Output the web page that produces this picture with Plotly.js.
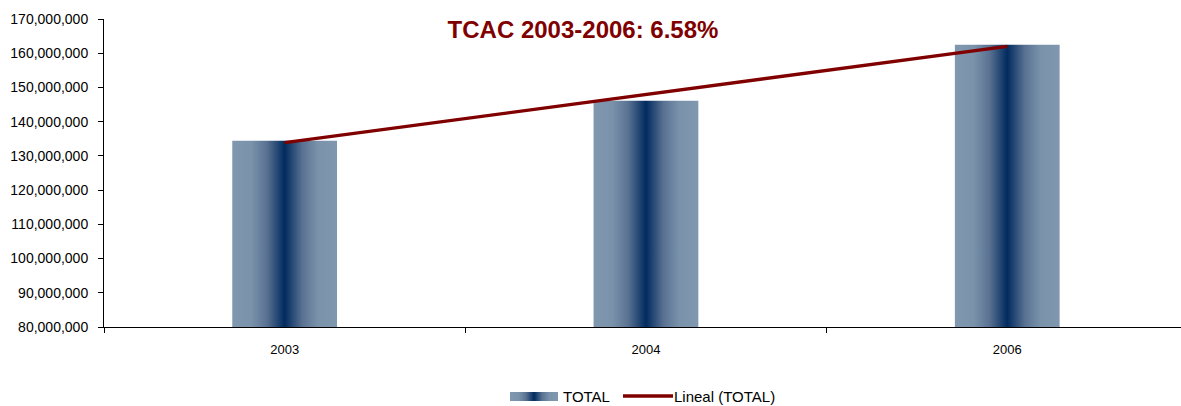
<!DOCTYPE html>
<html>
<head>
<meta charset="utf-8">
<script src="https://cdn.plot.ly/plotly-3.0.1.min.js"></script>
<style>
html,body{margin:0;padding:0;background:#fff;}
#chart{width:1181px;height:406px;}
</style>
</head>
<body>
<div id="chart"></div>
<script>
// ---- data ----
const years = ['2003', '2004', '2006'];
const totals = [134400000, 146100000, 162500000];
const trendTotals = [133900000, 147900000, 162000000];
const yTickVals = [80000000, 90000000, 100000000, 110000000, 120000000, 130000000, 140000000, 150000000, 160000000, 170000000];
const titleText = 'TCAC 2003-2006: 6.58%';
const legendLabels = ['TOTAL', 'Lineal (TOTAL)'];

// ---- layout geometry ----
const W = 1181, H = 406;
const M = {l: 104, r: 0, t: 19, b: 79};
const plotW = W - M.l - M.r, plotH = H - M.t - M.b;
const px = x => (x - M.l) / plotW;           // pixel -> paper x
const py = y => (H - M.b - y) / plotH;       // pixel -> paper y
const FONT = '"Liberation Sans", Arial, sans-serif';
const DARKRED = '#800000';

const data = [
  {
    type: 'bar', x: years, y: totals, name: legendLabels[0],
    width: 0.29, marker: {color: '#4d6587', line: {width: 0}},
    showlegend: false, hoverinfo: 'x+y'
  },
  {
    type: 'scatter', mode: 'lines', x: years, y: trendTotals, name: legendLabels[1],
    line: {color: DARKRED, width: 3.3}, showlegend: false, hoverinfo: 'x+y'
  }
];

const layout = {
  width: W, height: H,
  margin: M,
  paper_bgcolor: '#ffffff', plot_bgcolor: '#ffffff',
  font: {family: FONT, color: '#000000'},
  showlegend: false,
  title: {
    text: '<b>' + titleText + '</b>',
    font: {family: FONT, size: 24, color: DARKRED},
    x: 583 / W, xanchor: 'center', xref: 'container',
    y: 1 - 30 / H, yanchor: 'middle', yref: 'container'
  },
  xaxis: {
    type: 'category', range: [-0.5, -0.5 + plotW / 361.3],
    showline: true, linecolor: '#000000', linewidth: 1,
    ticks: 'outside', ticklen: 5, tickcolor: '#000000', tickson: 'boundaries',
    showgrid: false, zeroline: false,
    tickfont: {family: FONT, size: 13, color: '#000000'},
    ticklabelstandoff: 10,
    fixedrange: true
  },
  yaxis: {
    range: [80000000, 170000000],
    tickvals: yTickVals, tickformat: ',d',
    showline: true, linecolor: '#000000', linewidth: 1,
    ticks: 'outside', ticklen: 5, tickcolor: '#000000',
    showgrid: false, zeroline: false,
    tickfont: {family: FONT, size: 14, color: '#000000'},
    ticklabelstandoff: 7,
    fixedrange: true
  },
  shapes: [
    {type: 'rect', xref: 'paper', yref: 'paper', x0: px(510), x1: px(558), y0: py(401), y1: py(392),
     fillcolor: '#4d6587', line: {width: 0}},
    {type: 'line', xref: 'paper', yref: 'paper', x0: px(623), x1: px(673), y0: py(396), y1: py(396),
     line: {color: DARKRED, width: 3.3}}
  ],
  annotations: [
    {xref: 'paper', yref: 'paper', x: px(561), y: py(396), xanchor: 'left', yanchor: 'middle',
     text: legendLabels[0], showarrow: false, font: {family: FONT, size: 15, color: '#000000'}},
    {xref: 'paper', yref: 'paper', x: px(672), y: py(396), xanchor: 'left', yanchor: 'middle',
     text: legendLabels[1], showarrow: false, font: {family: FONT, size: 15, color: '#000000'}}
  ]
};

function applyGradient(gd) {
  const ns = 'http://www.w3.org/2000/svg';
  const svg = gd.querySelector('svg.main-svg');
  let defs = svg.querySelector('defs');
  if (!defs) { defs = document.createElementNS(ns, 'defs'); svg.insertBefore(defs, svg.firstChild); }
  const lg = document.createElementNS(ns, 'linearGradient');
  lg.setAttribute('id', 'barGrad');
  lg.setAttribute('x1', '0'); lg.setAttribute('y1', '0');
  lg.setAttribute('x2', '1'); lg.setAttribute('y2', '0');
  const stops = [[0, '#7f98b0'], [0.18, '#7a93ab'], [0.33, '#5a7292'], [0.5, '#012b5f'],
                 [0.67, '#5a7292'], [0.82, '#7a93ab'], [1, '#7f98b0']];
  stops.forEach(([o, c]) => {
    const s = document.createElementNS(ns, 'stop');
    s.setAttribute('offset', o); s.setAttribute('stop-color', c);
    lg.appendChild(s);
  });
  defs.appendChild(lg);
  gd.querySelectorAll('.barlayer .point path').forEach(p => { p.style.fill = 'url(#barGrad)'; });
  gd.querySelectorAll('.shapelayer path[data-index="0"]').forEach(p => { p.style.fill = 'url(#barGrad)'; });
}

const gd = document.getElementById('chart');
Plotly.newPlot(gd, data, layout, {staticPlot: true, displayModeBar: false}).then(applyGradient);
</script>
</body>
</html>
